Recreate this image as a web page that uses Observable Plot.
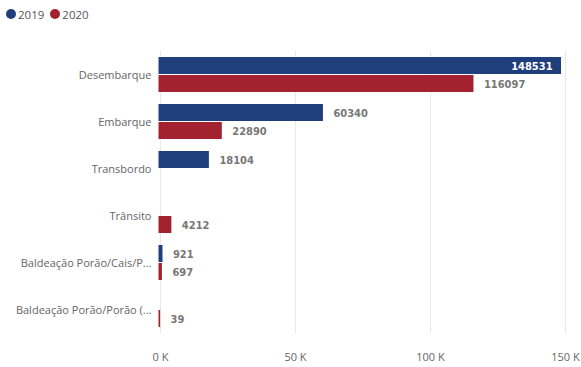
<!DOCTYPE html>
<html><head><meta charset="utf-8">
<script src="https://cdn.jsdelivr.net/npm/d3@7"></script>
<script src="https://cdn.jsdelivr.net/npm/@observablehq/plot@0.6"></script>
<style>
body{margin:0;background:#fff;font-family:"Open Sans",sans-serif;}
#legend{height:28px;display:flex;align-items:center;font-size:11.5px;color:#555;padding-left:6px;}
#legend span{display:inline-flex;align-items:center;margin-right:6px;}
#legend i{display:inline-block;width:10px;height:10px;border-radius:50%;margin-right:2px;}
</style></head>
<body>
<div id="legend"></div>
<div id="chart"></div>
<script>
const categories = ["Desembarque","Embarque","Transbordo","Trânsito","Baldeação Porão/Cais/P...","Baldeação Porão/Porão (..."];
const years = ["2019","2020"];
const values2019 = [148531,60340,18104,null,921,null];
const values2020 = [116097,22890,null,4212,697,39];
const colors = ["#1F3E7C","#A4212F"];
const xTicks = [0,50000,100000,150000];

const rows = [];
categories.forEach((c,i)=>{
  if(values2019[i]!=null) rows.push({cat:c, year:"2019", value:values2019[i]});
  if(values2020[i]!=null) rows.push({cat:c, year:"2020", value:values2020[i]});
});

const leg = document.getElementById("legend");
years.forEach((y,i)=>{
  const s=document.createElement("span");
  s.innerHTML=`<i style="background:${colors[i]}"></i>${y}`;
  leg.appendChild(s);
});

const insideMin = 140000;
const chart = Plot.plot({
  width:581, height:339,
  marginLeft:160, marginRight:16, marginTop:23, marginBottom:34,
  style:{fontFamily:"Open Sans, sans-serif", fontSize:"11px", color:"#666", background:"#fff"},
  x:{domain:[0,150000], ticks:xTicks, tickFormat:d=>`${d/1000} K`, tickSize:0, tickPadding:20, label:null, grid:false},
  fy:{domain:categories, padding:0, label:null, axis:"left", tickSize:0, tickPadding:9},
  y:{domain:years, axis:null, paddingInner:0.06, paddingOuter:0.31},
  color:{domain:years, range:colors},
  marks:[
    Plot.gridX(xTicks,{stroke:"#e8e8e8", strokeOpacity:1}),
    Plot.barX(rows,{fy:"cat", y:"year", x:"value", fill:"year", insetLeft:-1.5}),
    Plot.text(rows.filter(d=>d.value<insideMin),{fy:"cat", y:"year", x:"value", text:d=>String(d.value), textAnchor:"start", dx:10, fill:"#777", fontWeight:"bold", fontFamily:"DejaVu Sans Condensed, sans-serif", fontSize:11}),
    Plot.text(rows.filter(d=>d.value>=insideMin),{fy:"cat", y:"year", x:"value", text:d=>String(d.value), textAnchor:"end", dx:-9, fill:"#fff", fontWeight:"bold", fontFamily:"DejaVu Sans Condensed, sans-serif", fontSize:11})
  ]
});
document.getElementById("chart").appendChild(chart);
</script>
</body></html>
